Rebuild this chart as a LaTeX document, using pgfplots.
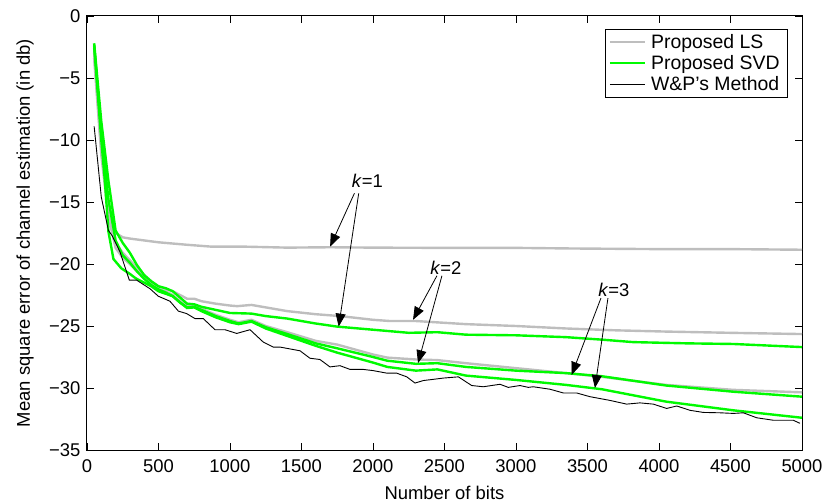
\documentclass[border=0pt]{standalone}
\usepackage{fontspec}
\setmainfont{Liberation Sans}
\usepackage{pgfplots}
\pgfplotsset{compat=1.18}
\usetikzlibrary{arrows.meta}
\definecolor{lsgray}{RGB}{190,190,190}
\definecolor{svdgreen}{RGB}{0,250,0}
\newcommand{\fs}{\fontsize{18.5}{21}\selectfont}
\newcommand{\fl}{\fontsize{19.5}{21}\selectfont}
\begin{document}
\begin{tikzpicture}
\useasboundingbox (-87bp,-53bp) rectangle (737bp,450bp);
\begin{axis}[
 scale only axis, width=715bp, height=434bp,
 xmin=0,xmax=5000,ymin=-35,ymax=0,
 xtick={0,500,...,5000},
 xticklabels={0,500,1000,1500,2000,2500,3000,3500,4000,4500,5000},
 ytick={-35,-30,...,0},
 yticklabels={−35,−30,−25,−20,−15,−10,−5,0},
 tick align=inside, major tick length=7bp,
 every tick/.style={black, line width=0.8bp},
 axis line style={line width=1bp},
 tick label style={font=\fs},
 xticklabel style={yshift=-6bp},
 yticklabel style={xshift=-3bp},
 label style={font=\fs},
 xlabel={Number of bits},
 ylabel={Mean square error of channel estimation (in db)},
 xlabel style={at={(axis description cs:0.5,-0.099)},anchor=center},
 ylabel style={at={(axis description cs:-0.0867,0.5)},anchor=center},
 legend style={at={(1,1)},anchor=north east,xshift=-14bp,yshift=-13bp, draw=black, line width=0.8bp, font=\fl, row sep=1.5bp, inner xsep=3bp, inner ysep=3bp, nodes={inner xsep=5bp}},
 legend cell align=left,
 legend image code/.code={\draw[#1] (0bp,0bp) -- (35bp,0bp);},
]
% Proposed LS, k=1
\addplot[lsgray, line width=2.4bp] coordinates {(50,-2.6)(100,-10.2)(150,-15.2)(200,-17.5)(250,-17.85)(300,-17.95)(400,-18.1)(500,-18.25)(600,-18.35)(700,-18.45)(870,-18.6)(1100,-18.6)(1400,-18.68)(1700,-18.65)(2000,-18.68)(2500,-18.7)(3000,-18.7)(3400,-18.75)(4000,-18.8)(4500,-18.8)(5000,-18.85)};
\addlegendentry{Proposed LS}
% Proposed LS, k=2
\addplot[lsgray, line width=2.4bp, forget plot] coordinates {(50,-3.0)(100,-10.8)(150,-15.6)(200,-18.3)(250,-19.1)(300,-19.7)(350,-20.3)(400,-20.9)(450,-21.4)(500,-21.8)(550,-22.0)(600,-22.2)(650,-22.5)(700,-22.8)(750,-22.8)(800,-23.0)(900,-23.2)(1000,-23.35)(1050,-23.4)(1150,-23.3)(1250,-23.5)(1400,-23.8)(1600,-24.05)(1770,-24.2)(2000,-24.5)(2120,-24.6)(2300,-24.6)(2650,-24.85)(3000,-25.0)(3350,-25.2)(3700,-25.35)(4050,-25.45)(4500,-25.55)(5000,-25.65)};
% Proposed LS, k=3
\addplot[lsgray, line width=2.4bp, forget plot] coordinates {(50,-3.4)(100,-11.2)(150,-16.2)(200,-18.7)(250,-19.5)(300,-20.0)(350,-20.6)(400,-21.1)(450,-21.6)(500,-22.0)(550,-22.2)(600,-22.5)(650,-23.0)(700,-23.4)(750,-23.4)(800,-23.6)(900,-24.1)(1000,-24.5)(1060,-24.7)(1150,-24.5)(1250,-25.0)(1400,-25.5)(1600,-26.2)(1750,-26.5)(2000,-27.3)(2100,-27.55)(2300,-27.7)(2450,-27.75)(2650,-28.0)(3000,-28.4)(3350,-28.8)(3600,-29.1)(4050,-29.75)(4520,-30.15)(5000,-30.35)};
% Proposed SVD, k=1
\addplot[svdgreen, line width=2.4bp] coordinates {(50,-2.2)(100,-8.5)(150,-13.3)(200,-17.3)(250,-18.3)(300,-19.1)(350,-20.1)(400,-20.9)(450,-21.4)(500,-21.8)(550,-21.95)(600,-22.2)(650,-22.7)(700,-23.2)(750,-23.25)(800,-23.45)(900,-23.7)(1000,-23.95)(1150,-24.0)(1250,-24.2)(1400,-24.4)(1500,-24.6)(1600,-24.8)(1750,-25.05)(2000,-25.3)(2250,-25.55)(2450,-25.5)(2650,-25.7)(3000,-25.75)(3350,-25.9)(3600,-26.1)(3820,-26.3)(4200,-26.4)(4520,-26.45)(5000,-26.7)};
\addlegendentry{Proposed SVD}
% Proposed SVD, k=2
\addplot[svdgreen, line width=2.4bp, forget plot] coordinates {(50,-2.3)(100,-9.5)(150,-14.8)(200,-18.1)(250,-19.3)(300,-19.9)(350,-20.6)(400,-21.2)(450,-21.7)(500,-22.05)(550,-22.3)(600,-22.6)(650,-23.1)(700,-23.5)(750,-23.45)(800,-23.7)(900,-24.2)(1000,-24.6)(1060,-24.8)(1150,-24.6)(1250,-25.1)(1400,-25.65)(1600,-26.4)(1750,-26.8)(2000,-27.5)(2100,-27.8)(2300,-28.05)(2450,-28.0)(2650,-28.3)(3000,-28.6)(3350,-28.8)(3600,-29.05)(4050,-29.8)(4520,-30.3)(5000,-30.7)};
% Proposed SVD, k=3
\addplot[svdgreen, line width=2.4bp, forget plot] coordinates {(50,-2.4)(100,-10.0)(125,-13.3)(150,-17.4)(185,-19.6)(240,-20.35)(300,-20.8)(340,-21.15)(450,-21.8)(500,-22.2)(600,-22.6)(650,-23.1)(700,-23.55)(750,-23.5)(800,-23.8)(900,-24.3)(1000,-24.7)(1060,-24.85)(1150,-24.65)(1250,-25.2)(1400,-25.8)(1600,-26.6)(1750,-27.15)(2000,-27.95)(2100,-28.3)(2300,-28.6)(2450,-28.5)(2650,-29.0)(3000,-29.35)(3350,-29.75)(3600,-30.1)(4050,-31.1)(4520,-31.8)(5000,-32.4)};
% W&P's method
\addplot[black, line width=0.9bp] coordinates {(50,-8.9)(100,-14.6)(150,-17.3)(175,-17.7)(230,-19.0)(296,-21.3)(347,-21.3)(441,-22.0)(499,-22.6)(580,-23.0)(639,-23.8)(697,-24.0)(755,-24.4)(813,-24.4)(895,-25.3)(965,-25.3)(1047,-25.6)(1140,-25.3)(1233,-26.3)(1303,-26.7)(1350,-26.7)(1420,-26.85)(1490,-27.0)(1559,-27.6)(1629,-27.7)(1699,-28.3)(1769,-28.2)(1839,-28.5)(1932,-28.5)(2002,-28.6)(2096,-28.8)(2165,-28.8)(2236,-29.1)(2294,-29.6)(2352,-29.4)(2492,-29.2)(2597,-29.1)(2690,-29.8)(2771,-29.9)(2888,-29.7)(2946,-29.95)(3028,-29.8)(3086,-29.95)(3121,-29.9)(3238,-30.1)(3331,-30.4)(3424,-30.4)(3517,-30.7)(3657,-31.0)(3774,-31.3)(3867,-31.2)(3960,-31.3)(4054,-31.65)(4124,-31.45)(4217,-31.8)(4310,-31.97)(4427,-32.0)(4520,-32.05)(4590,-32.0)(4683,-32.4)(4799,-32.6)(4939,-32.6)(4986,-32.85)};
\addlegendentry{W\&P's Method}
% annotations
\node[font=\fs] at (axis cs:1960,-13.3) {\textit{k}=1};
\draw[-{Triangle[length=13bp,width=10bp]}, line width=0.8bp] (axis cs:1870,-14.3) -- (axis cs:1700,-18.6);
\draw[-{Triangle[length=13bp,width=10bp]}, line width=0.8bp] (axis cs:1900,-14.3) -- (axis cs:1760,-25.05);
\node[font=\fs] at (axis cs:2510,-20.3) {\textit{k}=2};
\draw[-{Triangle[length=13bp,width=10bp]}, line width=0.8bp] (axis cs:2447,-20.95) -- (axis cs:2280,-24.5);
\draw[-{Triangle[length=13bp,width=10bp]}, line width=0.8bp] (axis cs:2482,-20.95) -- (axis cs:2315,-28.0);
\node[font=\fs] at (axis cs:3685,-22.1) {\textit{k}=3};
\draw[-{Triangle[length=13bp,width=10bp]}, line width=0.8bp] (axis cs:3594,-22.75) -- (axis cs:3389,-28.95);
\draw[-{Triangle[length=13bp,width=10bp]}, line width=0.8bp] (axis cs:3643,-22.75) -- (axis cs:3552,-30.0);
\end{axis}
\end{tikzpicture}
\end{document}
